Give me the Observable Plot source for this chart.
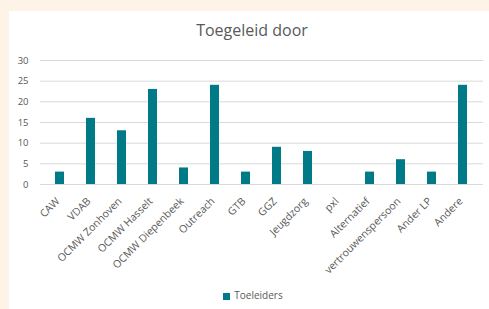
<!DOCTYPE html>
<html>
<head>
<meta charset="utf-8">
<script src="https://cdn.jsdelivr.net/npm/d3@7"></script>
<script src="https://cdn.jsdelivr.net/npm/@observablehq/plot@0.6"></script>
<style>
  html, body { margin: 0; padding: 0; }
  body { width: 489px; height: 309px; background: #fdf3e6; position: relative; overflow: hidden; font-family: "Open Sans", Lato, sans-serif; }
  #panel { position: absolute; left: 9px; top: 11px; width: 480px; height: 298px; background: #ffffff; }
  #title { position: absolute; left: 0; width: 480px; top: 8px; text-align: center; font-size: 16px; color: #595959; padding-left: 6px; box-sizing: border-box; }
  #chart { position: absolute; left: 0; top: 39px; }
  #legend { position: absolute; left: 0; width: 480px; top: 277px; text-align: center; font-size: 10px; color: #595959; padding-left: 8px; box-sizing: border-box; }
  #legend span.sw { display: inline-block; width: 7px; height: 7px; background: #007a87; margin-right: 4px; vertical-align: -1px; }
</style>
</head>
<body>
<div id="panel">
  <div id="title">Toegeleid door</div>
  <div id="chart"></div>
  <div id="legend"><span class="sw"></span>Toeleiders</div>
</div>
<script>
const categories = ["CAW", "VDAB", "OCMW Zonhoven", "OCMW Hasselt", "OCMW Diepenbeek", "Outreach", "GTB", "GGZ", "Jeugdzorg", "pxl", "Alternatief", "vertrouwenspersoon", "Ander LP", "Andere"];
const values = [3, 16, 13, 23, 4, 24, 3, 9, 8, 0, 3, 6, 3, 24];
const yTicks = [0, 5, 10, 15, 20, 25, 30];
const seriesName = "Toeleiders";

const data = categories.map((c, i) => ({category: c, value: values[i], series: seriesName}));

const chart = Plot.plot({
  width: 480,
  height: 228,
  marginLeft: 31,
  marginRight: 6,
  marginTop: 10,
  marginBottom: 94,
  style: {fontFamily: "'Open Sans', Lato, sans-serif", fontSize: "9.5px", color: "#595959", background: "transparent"},
  x: {domain: categories, paddingInner: 0.7, paddingOuter: 0.335, label: null},
  y: {domain: [0, 30], ticks: yTicks, label: null},
  marks: [
    Plot.gridY(yTicks, {stroke: "#d9d9d9", strokeOpacity: 1}),
    Plot.ruleY([0], {stroke: "#d9d9d9"}),
    Plot.barY(data, {x: "category", y: "value", fill: "#007a87"}),
    Plot.axisY({ticks: yTicks, tickSize: 0, tickPadding: 12, fill: "#595959", fontSize: 9.5}),
    Plot.axisX({tickSize: 0, tickRotate: -45, tickPadding: 0, dx: -2, dy: 15, fill: "#595959", fontSize: 10.5})
  ]
});
document.getElementById("chart").appendChild(chart);
</script>
</body>
</html>
